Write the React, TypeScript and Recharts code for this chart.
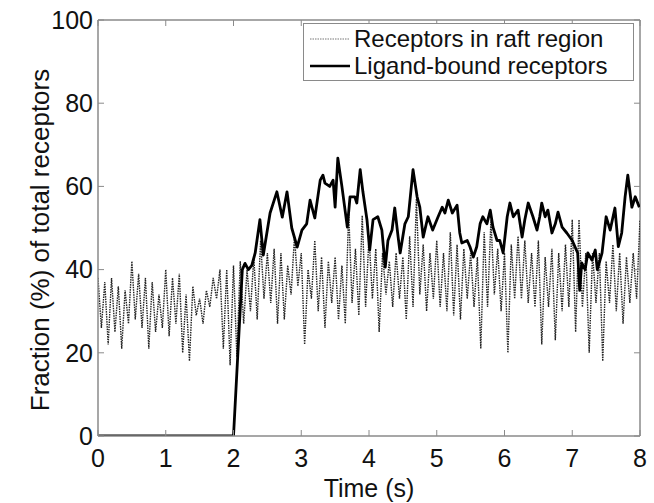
import { Legend, Line, LineChart, ReferenceLine, XAxis, YAxis } from "recharts";

const FONT = '"Liberation Sans", Arial, Helvetica, sans-serif';
const AXIS = "#8a8a8a";
const PLOT = { left: 98, right: 640, top: 20, bottom: 436 };

const xTicks = [0, 1, 2, 3, 4, 5, 6, 7, 8];
const xMinorTicks = [
  0.2, 0.4, 0.6, 0.8, 1.2, 1.4, 1.6, 1.8, 2.2, 2.4, 2.6, 2.8, 3.2, 3.4, 3.6, 3.8,
  4.2, 4.4, 4.6, 4.8, 5.2, 5.4, 5.6, 5.8, 6.2, 6.4, 6.6, 6.8, 7.2, 7.4, 7.6, 7.8,
];
const yTicks = [0, 20, 40, 60, 80, 100];

// receptors in raft region, sampled every 0.05 s from 0 to 8 s
const raftStep = 0.05;
const raftValues = [
  38, 26, 37, 22, 38, 25, 36, 21, 35, 27, 42, 28, 39, 26, 38, 21, 37, 25, 34, 26,
  40, 24, 38, 27, 39, 20, 34, 18, 36, 29, 33, 27, 35, 31, 38, 33, 40, 21, 40, 17,
  41, 19, 42, 27, 40, 30, 43, 28, 47, 33, 44, 32, 45, 27, 44, 28, 41, 34, 48, 36,
  44, 22, 40, 33, 47, 30, 43, 26, 42, 32, 43, 28, 41, 27, 54, 32, 45, 29, 53, 31,
  48, 33, 45, 25, 44, 34, 42, 31, 44, 33, 43, 28, 48, 31, 57, 34, 46, 30, 44, 33,
  47, 31, 44, 30, 49, 29, 46, 28, 45, 33, 44, 31, 43, 21, 49, 31, 52, 34, 45, 30,
  44, 20, 46, 33, 48, 33, 47, 32, 44, 31, 47, 22, 43, 31, 45, 23, 44, 30, 46, 31,
  52, 25, 52, 31, 44, 20, 44, 32, 44, 18, 42, 32, 46, 30, 44, 27, 43, 32, 44, 33,
  52,
];

// ligand-bound receptors
const ligandTimes = [
  0, 2.0, 2.13, 2.17, 2.22, 2.27, 2.32, 2.39, 2.44, 2.54, 2.64, 2.72, 2.79, 2.86,
  2.94, 3.01, 3.08, 3.13, 3.2, 3.28, 3.32, 3.35, 3.42, 3.47, 3.5, 3.54, 3.6, 3.68,
  3.72, 3.79, 3.82, 3.87, 3.91, 3.97, 4.01, 4.06, 4.13, 4.19, 4.24, 4.28, 4.34,
  4.38, 4.43, 4.46, 4.53, 4.58, 4.65, 4.71, 4.75, 4.8, 4.87, 4.94, 5.02, 5.08,
  5.12, 5.17, 5.23, 5.3, 5.34, 5.37, 5.45, 5.49, 5.54, 5.59, 5.64, 5.68, 5.74,
  5.79, 5.83, 5.89, 5.93, 5.98, 6.04, 6.08, 6.13, 6.2, 6.26, 6.3, 6.35, 6.42,
  6.48, 6.52, 6.55, 6.6, 6.64, 6.7, 6.75, 6.79, 6.85, 6.92, 7.0, 7.04, 7.08, 7.11,
  7.14, 7.19, 7.23, 7.29, 7.34, 7.37, 7.44, 7.5, 7.56, 7.63, 7.68, 7.73, 7.78,
  7.82, 7.88, 7.93, 7.99,
];
const ligandValues = [
  0, 0, 40, 41.5, 40, 41, 44, 52, 43.5, 53.6, 58.7, 52.6, 58.7, 50,
  45.4, 49.5, 51, 56.7, 52.4, 61.5, 62.7, 60.8, 60, 61.5, 55, 66.8, 60, 50.2,
  57.5, 57.5, 56, 64, 58.7, 52, 44.7, 52, 52.7, 49.5, 40.6, 47, 49.5,
  54.8, 47.8, 44, 51, 52.7, 64, 57.5, 55, 47.8, 52.7, 49.5, 52.7, 55,
  53.6, 56.7, 53.6, 55.5, 48.8, 46.4, 47, 45.5, 43, 45.5, 51, 52.7, 51,
  54.3, 50.2, 47, 47, 44, 52.7, 56, 52.7, 54.3, 47.8, 52, 56, 52.7,
  49.5, 52.7, 56, 52.7, 54.3, 48.8, 51, 53.8, 50.2, 48.8, 47, 45.5, 44, 35,
  41.6, 40, 44, 42.3, 44.7, 40, 44, 52.7, 49.5, 54.8, 45.5, 48.8, 57.5,
  62.7, 55, 57.5, 55,
];

const raftData = raftValues.map((v, i) => ({ t: +(i * raftStep).toFixed(2), v }));
const ligandData = ligandTimes.map((t, i) => ({ t, v: ligandValues[i] }));

const XTick = ({ x, payload }: any) => (
  <g>
    <line x1={x} x2={x} y1={PLOT.bottom} y2={PLOT.bottom - 6} stroke={AXIS} />
    <line x1={x} x2={x} y1={PLOT.top} y2={PLOT.top + 6} stroke={AXIS} />
    <text x={x} y={PLOT.bottom + 31} textAnchor="middle" fontSize={25} fontFamily={FONT} fill="#111">
      {payload.value}
    </text>
  </g>
);

const MinorTick = ({ x }: any) => (
  <g>
    <line x1={x} x2={x} y1={PLOT.bottom} y2={PLOT.bottom - 3} stroke={AXIS} />
    <line x1={x} x2={x} y1={PLOT.top} y2={PLOT.top + 3} stroke={AXIS} />
  </g>
);

const YTick = ({ y, payload }: any) => (
  <g>
    <line x1={PLOT.left} x2={PLOT.left + 6} y1={y} y2={y} stroke={AXIS} />
    <line x1={PLOT.right} x2={PLOT.right - 6} y1={y} y2={y} stroke={AXIS} />
    <text x={PLOT.left - 5} y={y} dy="0.35em" textAnchor="end" fontSize={25} fontFamily={FONT} fill="#111">
      {payload.value}
    </text>
  </g>
);

const legendItems = [
  { name: "Receptors in raft region", dash: "1.5 1", width: 1, color: "#777" },
  { name: "Ligand-bound receptors", dash: undefined, width: 2.6, color: "#000" },
];

const LegendBox = () => (
  <div
    style={{
      width: 331,
      height: 58,
      boxSizing: "border-box",
      border: `1px solid ${AXIS}`,
      background: "#fff",
      fontFamily: FONT,
      fontSize: 24,
      color: "#111",
      padding: "1px 0 0 6px",
    }}
  >
    {legendItems.map((item) => (
      <div key={item.name} style={{ display: "flex", alignItems: "center", height: 27, lineHeight: "27px", whiteSpace: "nowrap" }}>
        <svg width={40} height={10} style={{ marginRight: 4 }}>
          <line x1={0} x2={40} y1={5} y2={5} stroke={item.color} strokeWidth={item.width} strokeDasharray={item.dash} />
        </svg>
        <span>{item.name}</span>
      </div>
    ))}
  </div>
);

export default function App() {
  return (
    <div>
      <style>{`body { margin: 0; }`}</style>
      <LineChart width={654} height={503} margin={{ top: 20, right: 14, bottom: 0, left: 0 }}>
        <XAxis
          dataKey="t"
          type="number"
          domain={[0, 8]}
          ticks={xTicks}
          tick={<XTick />}
          tickLine={false}
          axisLine={{ stroke: AXIS, strokeWidth: 1.5 }}
          height={67}
          allowDataOverflow
          label={() => (
            <text x={369} y={497} textAnchor="middle" fontSize={25} fontFamily={FONT} fill="#111">
              Time (s)
            </text>
          )}
        />
        <XAxis
          xAxisId="minor"
          orientation="top"
          dataKey="t"
          type="number"
          domain={[0, 8]}
          ticks={xMinorTicks}
          tick={<MinorTick />}
          tickLine={false}
          axisLine={false}
          height={0}
          allowDataOverflow
        />
        <YAxis
          type="number"
          domain={[0, 100]}
          ticks={yTicks}
          tick={<YTick />}
          tickLine={false}
          axisLine={{ stroke: AXIS, strokeWidth: 1.5 }}
          width={98}
          allowDataOverflow
          label={() => (
            <text
              x={40}
              y={240}
              transform="rotate(-90 40 240)"
              textAnchor="middle"
              dominantBaseline="central"
              fontSize={26}
              fontFamily={FONT}
              fill="#111"
            >
              Fraction (%) of total receptors
            </text>
          )}
        />
        <ReferenceLine y={100} stroke={AXIS} strokeWidth={1.5} />
        <ReferenceLine x={8} stroke={AXIS} strokeWidth={1.5} />
        <Line
          data={raftData}
          dataKey="v"
          name="Receptors in raft region"
          type="linear"
          stroke="#222"
          strokeWidth={1.4}
          strokeDasharray="1.5 1"
          dot={false}
          isAnimationActive={false}
        />
        <Line
          data={ligandData}
          dataKey="v"
          name="Ligand-bound receptors"
          type="linear"
          stroke="#000"
          strokeWidth={2.8}
          strokeLinejoin="round"
          dot={false}
          isAnimationActive={false}
        />
        <Legend
          layout="horizontal"
          verticalAlign="middle"
          align="center"
          content={<LegendBox />}
          wrapperStyle={{ position: "absolute", left: 303, top: 23, width: 331, height: 58 }}
        />
      </LineChart>
    </div>
  );
}
